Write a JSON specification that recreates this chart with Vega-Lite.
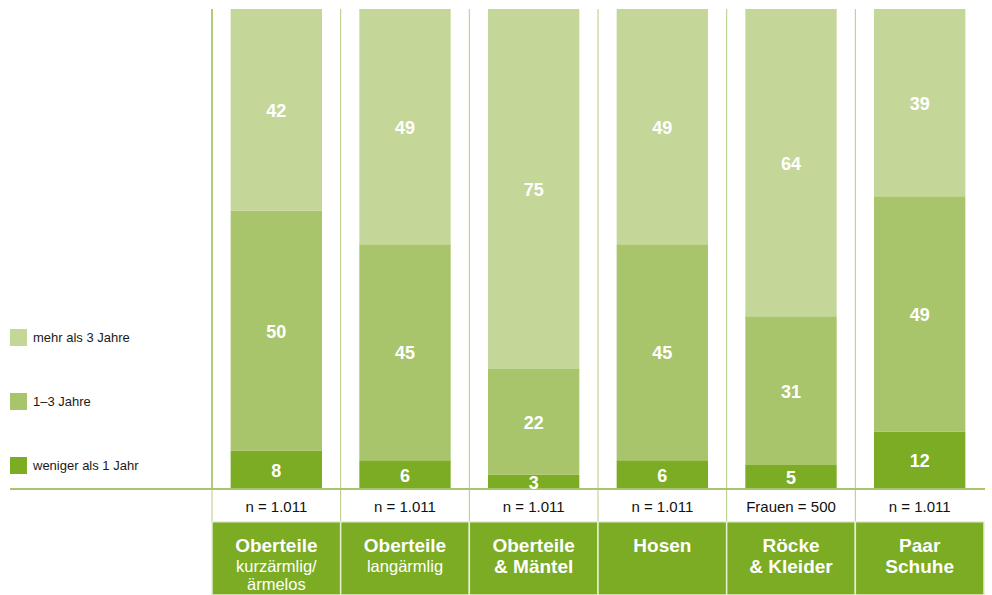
{
  "$schema": "https://vega.github.io/schema/vega-lite/v6.json",
  "autosize": {"type": "none"},
  "width": 975,
  "height": 586,
  "padding": {"left": 10, "top": 9, "right": 7, "bottom": 0},
  "config": {"view": {"stroke": null}, "font": "Liberation Sans"},
  "datasets": {
    "bars": [
      {"id": "A", "gruppe": "weniger als 1 Jahr", "stufe": 1, "wert": 8},
      {"id": "A", "gruppe": "1–3 Jahre", "stufe": 2, "wert": 50},
      {"id": "A", "gruppe": "mehr als 3 Jahre", "stufe": 3, "wert": 42},
      {"id": "B", "gruppe": "weniger als 1 Jahr", "stufe": 1, "wert": 6},
      {"id": "B", "gruppe": "1–3 Jahre", "stufe": 2, "wert": 45},
      {"id": "B", "gruppe": "mehr als 3 Jahre", "stufe": 3, "wert": 49},
      {"id": "C", "gruppe": "weniger als 1 Jahr", "stufe": 1, "wert": 3},
      {"id": "C", "gruppe": "1–3 Jahre", "stufe": 2, "wert": 22},
      {"id": "C", "gruppe": "mehr als 3 Jahre", "stufe": 3, "wert": 75},
      {"id": "D", "gruppe": "weniger als 1 Jahr", "stufe": 1, "wert": 6},
      {"id": "D", "gruppe": "1–3 Jahre", "stufe": 2, "wert": 45},
      {"id": "D", "gruppe": "mehr als 3 Jahre", "stufe": 3, "wert": 49},
      {"id": "E", "gruppe": "weniger als 1 Jahr", "stufe": 1, "wert": 5},
      {"id": "E", "gruppe": "1–3 Jahre", "stufe": 2, "wert": 31},
      {"id": "E", "gruppe": "mehr als 3 Jahre", "stufe": 3, "wert": 64},
      {"id": "F", "gruppe": "weniger als 1 Jahr", "stufe": 1, "wert": 12},
      {"id": "F", "gruppe": "1–3 Jahre", "stufe": 2, "wert": 49},
      {"id": "F", "gruppe": "mehr als 3 Jahre", "stufe": 3, "wert": 39}
    ],
    "cats": [
      {"id": "A", "n": "n = 1.011", "titel": "Oberteile", "unter": "kurzärmlig/\närmelos"},
      {"id": "B", "n": "n = 1.011", "titel": "Oberteile", "unter": "langärmlig"},
      {"id": "C", "n": "n = 1.011", "titel": "Oberteile\n& Mäntel", "unter": ""},
      {"id": "D", "n": "n = 1.011", "titel": "Hosen", "unter": ""},
      {"id": "E", "n": "Frauen = 500", "titel": "Röcke\n& Kleider", "unter": ""},
      {"id": "F", "n": "n = 1.011", "titel": "Paar\nSchuhe", "unter": ""}
    ]
  },
  "layer": [
    {
      "data": {"name": "bars"},
      "mark": {"type": "bar", "width": {"band": 0.71}},
      "encoding": {
        "x": {
          "field": "id", "type": "nominal", "axis": null, "sort": null,
          "scale": {"domain": ["A", "B", "C", "D", "E", "F"], "range": [202, 974], "paddingInner": 0, "paddingOuter": 0}
        },
        "y": {
          "field": "wert", "type": "quantitative", "stack": "zero", "axis": null,
          "scale": {"domain": [-22.083, 100], "nice": false, "zero": false}
        },
        "order": {"field": "stufe", "type": "quantitative", "sort": "ascending"},
        "color": {
          "field": "gruppe", "type": "nominal",
          "scale": {
            "domain": ["mehr als 3 Jahre", "1–3 Jahre", "weniger als 1 Jahr"],
            "range": ["#c5d699", "#a9c56b", "#7bac23"]
          },
          "legend": {
            "orient": "none", "legendX": 0, "legendY": 320, "title": null,
            "symbolType": "square", "symbolSize": 289, "symbolStrokeWidth": 0, "symbolOpacity": 1,
            "labelFontSize": 13, "labelColor": "#1a1a1a", "labelFont": "Liberation Sans",
            "rowPadding": 47, "labelOffset": 6
          }
        }
      }
    },
    {
      "data": {"name": "cats"},
      "mark": {"type": "rule", "color": "#b3cd80", "strokeWidth": 1},
      "encoding": {
        "x": {"field": "id", "type": "nominal", "bandPosition": 0},
        "y": {"datum": 100},
        "y2": {"datum": -6.8}
      }
    },
    {
      "data": {"name": "cats"},
      "transform": [{"filter": "datum.id === 'A'"}],
      "mark": {"type": "rule", "color": "#86b331", "strokeWidth": 1},
      "encoding": {
        "x": {"field": "id", "type": "nominal", "bandPosition": 0},
        "y": {"datum": 100},
        "y2": {"datum": 0}
      }
    },
    {
      "data": {"name": "cats"},
      "mark": {"type": "rect", "fill": "#7bac23", "stroke": "#e4eed2", "strokeWidth": 1.5},
      "encoding": {
        "x": {"field": "id", "type": "nominal"},
        "y": {"datum": -6.8},
        "y2": {"datum": -22.083}
      }
    },
    {
      "data": {"name": "cats"},
      "mark": {"type": "rule", "color": "#a9c56b", "strokeWidth": 1.5},
      "encoding": {"y": {"datum": 0}}
    },
    {
      "data": {"name": "bars"},
      "transform": [
        {"stack": "wert", "groupby": ["id"], "sort": [{"field": "stufe", "order": "ascending"}], "as": ["v0", "v1"]},
        {"calculate": "(datum.v0 + datum.v1) / 2", "as": "mitte"}
      ],
      "mark": {"type": "text", "color": "white", "fontWeight": "bold", "fontSize": 18, "baseline": "middle", "dy": 2, "font": "Liberation Sans"},
      "encoding": {
        "x": {"field": "id", "type": "nominal"},
        "y": {"field": "mitte", "type": "quantitative"},
        "text": {"field": "wert", "type": "quantitative"}
      }
    },
    {
      "data": {"name": "cats"},
      "mark": {"type": "text", "color": "#111111", "fontSize": 15, "baseline": "middle", "font": "Liberation Sans"},
      "encoding": {
        "x": {"field": "id", "type": "nominal"},
        "y": {"datum": -3.65},
        "text": {"field": "n", "type": "nominal"}
      }
    },
    {
      "data": {"name": "cats"},
      "mark": {"type": "text", "color": "white", "fontWeight": "bold", "fontSize": 19, "baseline": "alphabetic", "lineBreak": "\n", "lineHeight": 21, "font": "Liberation Sans"},
      "encoding": {
        "x": {"field": "id", "type": "nominal"},
        "y": {"datum": -13.1},
        "text": {"field": "titel", "type": "nominal"}
      }
    },
    {
      "data": {"name": "cats"},
      "mark": {"type": "text", "color": "white", "fontSize": 16.5, "baseline": "alphabetic", "lineBreak": "\n", "lineHeight": 18, "font": "Liberation Sans"},
      "encoding": {
        "x": {"field": "id", "type": "nominal"},
        "y": {"datum": -17.3},
        "text": {"field": "unter", "type": "nominal"}
      }
    }
  ]
}
